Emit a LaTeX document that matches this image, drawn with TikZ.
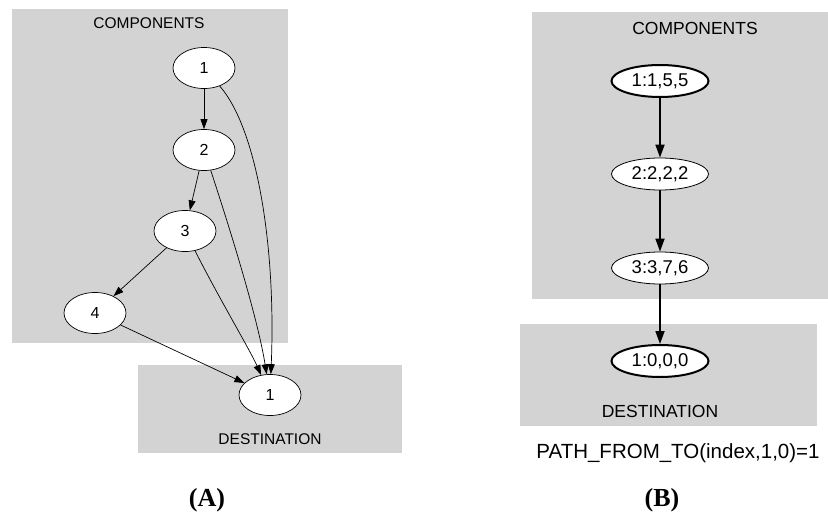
\documentclass[tikz,border=0pt]{standalone}
\usepackage{fontspec}
\setmainfont{Liberation Serif}
\newfontfamily\arialf{Liberation Sans}
\usetikzlibrary{shapes.geometric,arrows.meta}
\definecolor{clustergray}{HTML}{D3D3D3}
\begin{document}
\begin{tikzpicture}[x=1pt,y=-1pt,
  cluster/.style={fill=clustergray,draw=none},
  nodeA/.style={ellipse,draw,fill=white,line width=0.7pt,minimum width=62pt,minimum height=41pt,inner sep=0pt,font=\arialf\fontsize{16}{18}\selectfont},
  nodeB/.style={ellipse,draw,fill=white,line width=0.8pt,minimum width=97pt,minimum height=32pt,inner sep=0pt,font=\arialf\fontsize{18.5}{20}\selectfont},
  nodeBthick/.style={nodeB,line width=2pt},
  lblA/.style={font=\arialf\fontsize{15.5}{17}\selectfont,inner sep=0pt},
  lblB/.style={font=\arialf\fontsize{17.5}{19}\selectfont,inner sep=0pt},
  pathlbl/.style={font=\arialf\fontsize{20.5}{22}\selectfont,inner sep=0pt},
  caption/.style={font=\bfseries\fontsize{26}{28}\selectfont,inner sep=0pt},
  edgeA/.style={line width=0.7pt,-{Triangle[length=10pt,width=7pt]}},
  edgeB/.style={line width=1.7pt,-{Triangle[length=13pt,width=9pt]}}]
\useasboundingbox (0,0) rectangle (828,514);
% ---- Panel A ----
\fill[cluster] (12,9) rectangle (288,343);
\fill[cluster] (138,365) rectangle (402,453);
\node[lblA] (compA) at (149,23) {COMPONENTS};
\node[lblA] (destA) at (270,439) {DESTINATION};
\node[nodeA] (a1) at (204,68) {1};
\node[nodeA] (a2) at (204,150) {2};
\node[nodeA] (a3) at (185,231) {3};
\node[nodeA] (a4) at (95,313) {4};
\node[nodeA] (ad) at (270,395) {1};
\draw[edgeA] (a1) -- (a2);
\draw[edgeA] (a2) -- (a3);
\draw[edgeA] (a3) -- (a4);
\draw[edgeA] (a1) .. controls (258,130) and (276,250) .. (ad);
\draw[edgeA] (a2) .. controls (232,235) and (258,320) .. (ad);
\draw[edgeA] (a3) .. controls (220,300) and (250,350) .. (ad);
\draw[edgeA] (a4) -- (ad);
\node[caption] (capA) at (207,500) {(A)};
% ---- Panel B ----
\fill[cluster] (532,12) rectangle (828,299);
\fill[cluster] (520,324) rectangle (817,426);
\node[lblB] (compB) at (695,28) {COMPONENTS};
\node[lblB] (destB) at (660,411) {DESTINATION};
\node[nodeBthick] (b1) at (660,81) {1:1,5,5};
\node[nodeB] (b2) at (660,174) {2:2,2,2};
\node[nodeB] (b3) at (660,268) {3:3,7,6};
\node[nodeBthick] (bd) at (660,361) {1:0,0,0};
\draw[edgeB] (b1) -- (b2);
\draw[edgeB] (b2) -- (b3);
\draw[edgeB] (b3) -- (bd);
\node[pathlbl] (path) at (678,453) {PATH\_FROM\_TO(index,1,0)=1};
\node[caption] (capB) at (662,500) {(B)};
\end{tikzpicture}
\end{document}
